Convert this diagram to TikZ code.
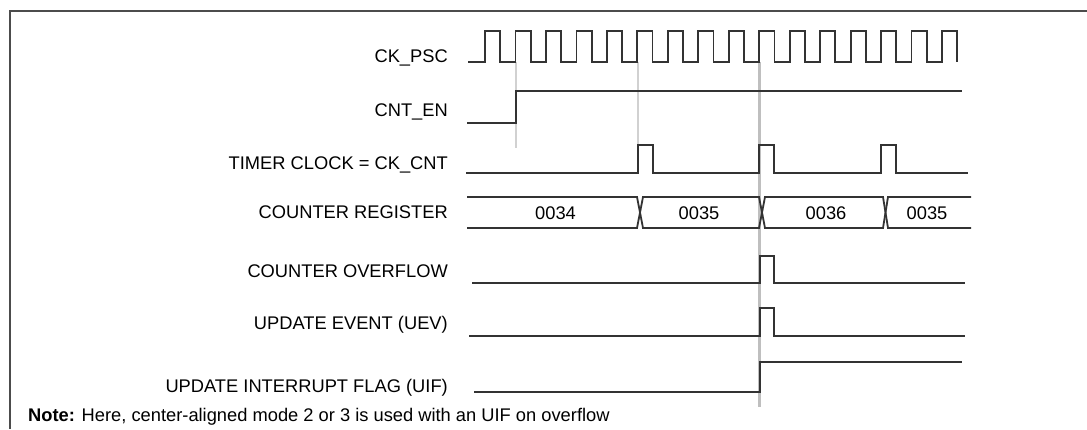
\documentclass[tikz,border=0pt]{standalone}
\usepackage{fontspec}
\setmainfont{Liberation Sans}
\usepackage{tikz}

\begin{document}
\begin{tikzpicture}[x=1pt,y=-1pt,
    wave/.style={line width=1.8pt,draw=black!80},
    guide/.style={line width=1.6pt,draw=black!18},
    lbl/.style={anchor=base east,inner sep=0pt,font=\fontsize{18.3}{22}\selectfont},
    val/.style={inner sep=0pt,font=\fontsize{18.3}{22}\selectfont}]
  \useasboundingbox (0,0) rectangle (1087,429);
  \draw[line width=2pt,black!70] (1087,11) -- (10,11) -- (10,429);
  \draw[guide] (516,62) -- (516,148);
  \draw[guide] (638,62) -- (638,145);
  \draw[guide,line width=3pt,draw=black!25] (759.5,62) -- (759.5,407);
  \node[lbl] (ckpsc) at (448,62.7) {CK\_PSC};
  \node[lbl] (cnten) at (448,116) {CNT\_EN};
  \node[lbl] (ckcnt) at (448,169) {TIMER CLOCK = CK\_CNT};
  \node[lbl] (cntreg) at (448,218) {COUNTER REGISTER};
  \node[lbl] (ovf) at (448,277) {COUNTER OVERFLOW};
  \node[lbl] (uev) at (448,329) {UPDATE EVENT (UEV)};
  \node[lbl] (uif) at (448,392) {UPDATE INTERRUPT FLAG (UIF)};
  \node[lbl,anchor=base west] (note) at (28,421) {\textbf{Note:} Here, center-aligned mode 2 or 3 is used with an UIF on overflow};
  \draw[wave] (468,62) \foreach \i in {0,...,15} {
      -- ({485+30.47*\i},62) |- ({500.2+30.47*\i},31) -- ({500.2+30.47*\i},62)};
  \draw[wave] (467,123) -- (516,123) -- (516,91) -- (962,91);
  \draw[wave] (466,173) \foreach \t in {638,759,881} {
      -- (\t,173) |- (\t+15,145) -- (\t+15,173)} -- (968,173);
  \draw[wave] (467,197) -- (637,197) -- (643,228) -- (759,228) -- (765,197)
    -- (883,197) -- (888,228) -- (971,228);
  \draw[wave] (467,228) -- (637,228) -- (643,197) -- (759,197) -- (765,228)
    -- (883,228) -- (888,197) -- (971,197);
  \node[val] (v34) at (555.5,213) {0034};
  \node[val] (v35) at (699,213) {0035};
  \node[val] (v36) at (826,213) {0036};
  \node[val] (v35b) at (927,213) {0035};
  \draw[wave] (472,283) -- (760,283) |- (774,256) -- (774,283) -- (965,283);
  \draw[wave] (469,336) -- (760,336) |- (774,308) -- (774,336) -- (965,336);
  \draw[wave] (474,392) -- (760,392) -- (760,362) -- (962,362);
\end{tikzpicture}
\end{document}
